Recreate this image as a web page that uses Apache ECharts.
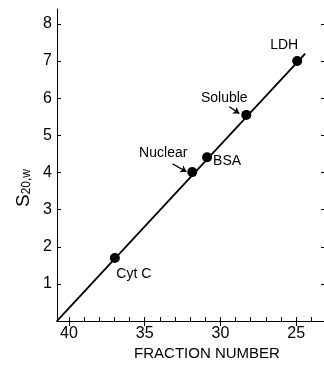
<!DOCTYPE html>
<html>
<head>
<meta charset="utf-8">
<script src="https://cdn.jsdelivr.net/npm/echarts@6/dist/echarts.min.js"></script>
<style>html,body{margin:0;padding:0;background:#fff}#c{width:324px;height:366px}</style>
</head>
<body>
<div id="c"></div>
<script>
// ---- data ----
var proteins = ['Cyt C', 'Nuclear', 'BSA', 'Soluble', 'LDH'];
var fractions = [36.97, 31.86, 30.88, 28.29, 24.93];
var sValues = [1.70, 4.01, 4.41, 5.55, 7.00];
var fitLineX = [40.8, 24.4];
var fitLineY = [0, 7.2];
var xTickLabels = [40, 35, 30, 25];
var xMinorTicks = [24,25,26,27,28,29,30,31,32,33,34,35,36,37,38,39,40];
var yTickLabels = [1, 2, 3, 4, 5, 6, 7, 8];
// annotation arrows (data coords): [fromX, fromY, toX, toY]
var nuclearArrow = [33.16, 4.23, 32.24, 4.02];
var solubleArrow = [29.41, 5.77, 28.75, 5.59];

// ---- presentation ----
var FONT = 'Liberation Sans';
var labelOffsets = {
  'Cyt C': [19, 16],
  'Nuclear': [-29, -19],
  'BSA': [20, 4],
  'Soluble': [-22, -17],
  'LDH': [-13, -16]
};
var X_LOW = 23.16, X_HIGH = 40.79;

var chart = echarts.init(document.getElementById('c'), null, {renderer: 'canvas'});
var scatterData = proteins.map(function (p, i) {
  return {
    name: p,
    value: [fractions[i], sValues[i]],
    label: {offset: labelOffsets[p]}
  };
});
var option = {
  animation: false,
  backgroundColor: '#fff',
  grid: {left: 57, right: -1, top: 9, bottom: 40},
  xAxis: [{
    type: 'value', inverse: true, min: X_LOW, max: X_HIGH,
    position: 'bottom',
    splitLine: {show: false},
    axisLine: {lineStyle: {color: '#000', width: 1.2}},
    axisTick: {inside: true, length: 4, customValues: xMinorTicks, lineStyle: {color: '#000'}},
    axisLabel: {customValues: xTickLabels, color: '#000', fontSize: 16, fontFamily: FONT, margin: 4},
    name: 'FRACTION NUMBER', nameLocation: 'middle', nameGap: 21,
    nameTextStyle: {color: '#000', fontSize: 15, fontFamily: FONT, padding: [0, 0, 0, 33]}
  }, {
    type: 'value', inverse: true, min: X_LOW, max: X_HIGH,
    position: 'top',
    splitLine: {show: false},
    axisLine: {lineStyle: {color: '#000', width: 1}},
    axisTick: {inside: true, length: 5, customValues: xTickLabels, lineStyle: {color: '#000'}},
    axisLabel: {show: false}
  }],
  yAxis: [{
    type: 'value', min: 0, max: 8.4, position: 'left',
    splitLine: {show: false},
    axisLine: {show: true, lineStyle: {color: '#000', width: 1}},
    axisTick: {inside: true, length: 4, customValues: yTickLabels, lineStyle: {color: '#000'}},
    axisLabel: {customValues: yTickLabels, color: '#000', fontSize: 16, fontFamily: FONT, margin: 5}
  }, {
    type: 'value', min: 0, max: 8.4, position: 'right',
    splitLine: {show: false},
    axisLine: {show: false},
    axisTick: {show: true, inside: true, length: 3, customValues: yTickLabels, lineStyle: {color: '#000'}},
    axisLabel: {show: false}
  }],
  graphic: [{
    type: 'text', x: 22, y: 188, rotation: Math.PI / 2,
    style: {
      text: '{s|S}{sub|20,w}',
      align: 'center', verticalAlign: 'middle',
      rich: {
        s: {fontSize: 19, fontFamily: FONT, fill: '#000', lineHeight: 22, verticalAlign: 'bottom'},
        sub: {fontSize: 12, fontFamily: FONT, fill: '#000', lineHeight: 22, verticalAlign: 'bottom', padding: [6, 0, 0, 0]}
      }
    }
  }],
  series: [{
    type: 'line', xAxisIndex: 0, yAxisIndex: 0,
    data: fitLineX.map(function (x, i) { return [x, fitLineY[i]]; }),
    showSymbol: false, symbol: 'none',
    lineStyle: {color: '#000', width: 1.8},
    markLine: {
      silent: true, symbol: ['none', 'arrow'], symbolSize: 6,
      label: {show: false},
      lineStyle: {color: '#000', width: 1.3, type: 'solid'},
      data: [
        [{coord: [nuclearArrow[0], nuclearArrow[1]], lineStyle: {curveness: -0.4}}, {coord: [nuclearArrow[2], nuclearArrow[3]]}],
        [{coord: [solubleArrow[0], solubleArrow[1]]}, {coord: [solubleArrow[2], solubleArrow[3]]}]
      ]
    }
  }, {
    type: 'scatter', xAxisIndex: 0, yAxisIndex: 0,
    data: scatterData,
    symbol: 'circle', symbolSize: 10,
    itemStyle: {color: '#000', opacity: 1},
    label: {
      show: true, position: 'inside', formatter: '{b}',
      color: '#000', fontSize: 14, fontFamily: FONT, textBorderWidth: 0
    }
  }]
};
chart.setOption(option);
</script>
</body>
</html>
